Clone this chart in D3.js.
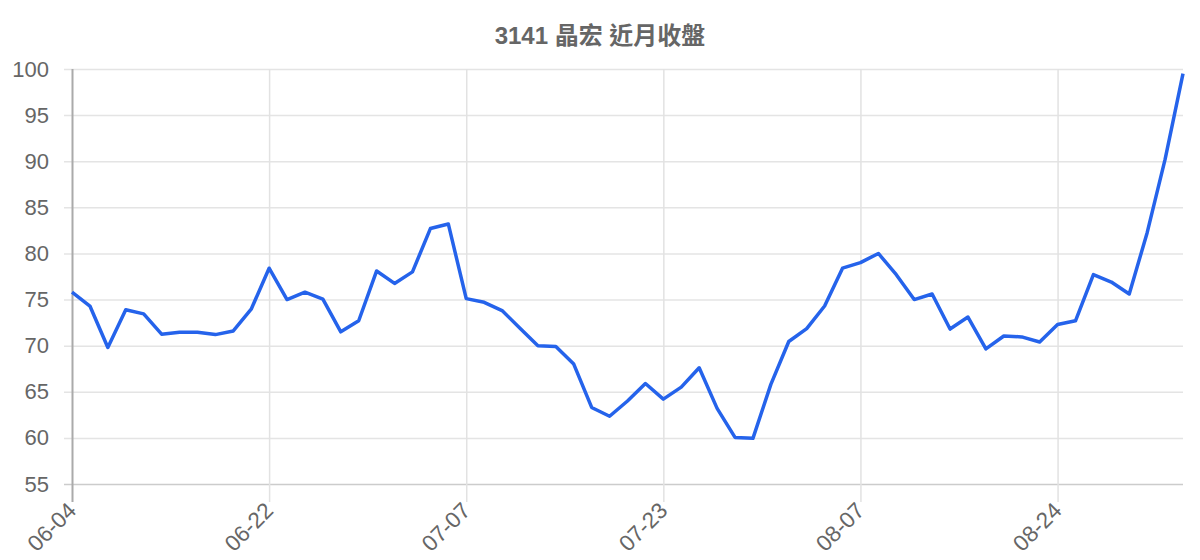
<!DOCTYPE html>
<html>
<head>
<meta charset="utf-8">
<script src="https://cdn.jsdelivr.net/npm/d3@7"></script>
<style>
  html, body { margin: 0; padding: 0; background: #fff; }
  svg { display: block; font-family: "Liberation Sans", Arial, "Noto Sans CJK TC", sans-serif; }
</style>
</head>
<body>
<div id="chart"></div>
<script>
// 3141 晶宏 收盤價 (63 個交易日)
const closes = [
  75.8, 74.3, 69.8, 73.9, 73.45, 71.25, 71.45, 71.45, 71.2, 71.6,
  73.95, 78.4, 75.0, 75.8, 75.05, 71.5, 72.7, 78.1, 76.75, 78.0,
  82.7, 83.2, 75.1, 74.7, 73.8, 71.9, 70.0, 69.9, 68.0, 63.3,
  62.35, 64.0, 65.9, 64.2, 65.5, 67.6, 63.2, 60.05, 59.95, 65.8,
  70.45, 71.85, 74.3, 78.4, 79.0, 80.0, 77.7, 75.0, 75.6, 71.8,
  73.1, 69.65, 71.05, 70.95, 70.4, 72.3, 72.7, 77.7, 76.9, 75.6,
  82.25, 90.2, 99.5
];
const tickIndex = [0, 11, 22, 33, 44, 55];
const tickLabels = ["06-04", "06-22", "07-07", "07-23", "08-07", "08-24"];
const yTicks = [55, 60, 65, 70, 75, 80, 85, 90, 95, 100];
const title = "3141 晶宏 近月收盤";

var width = 1200,
    height = 560,
    plotLeft = 72,
    plotRight = 1183,
    plotTop = 69,
    plotBottom = 484;

var svg = d3.select('#chart').append('svg')
  .attr('width', width)
  .attr('height', height);

var x = d3.scaleLinear()
  .domain([0, closes.length - 1])
  .range([plotLeft, plotRight]);

var y = d3.scaleLinear()
  .domain([55, 100])
  .range([plotBottom, plotTop]);

// horizontal grid + y labels
svg.append('g')
  .attr('transform', 'translate(' + plotLeft + ',0)')
  .call(d3.axisLeft(y).tickValues(yTicks).tickSize(-(plotRight - plotLeft)).tickPadding(0))
  .call(g => g.select('.domain').remove())
  .call(g => g.selectAll('.tick line')
    .attr('x1', -8)
    .attr('stroke', d => d === 55 ? '#cccccc' : '#e4e4e4')
    .attr('stroke-width', 1.5))
  .call(g => g.selectAll('.tick text')
    .attr('x', -23)
    .attr('fill', '#666')
    .attr('font-size', 22)
    .attr('font-family', null));

// vertical grid + x labels
svg.append('g')
  .attr('transform', 'translate(0,' + plotBottom + ')')
  .call(d3.axisBottom(x).tickValues(tickIndex)
    .tickFormat((d, i) => tickLabels[i])
    .tickSize(-(plotBottom - plotTop)))
  .call(g => g.select('.domain').remove())
  .call(g => g.selectAll('.tick line')
    .attr('y1', 18)
    .attr('y2', -(plotBottom - plotTop))
    .attr('stroke', d => d === 0 ? '#aaaaaa' : '#e2e2e2')
    .attr('stroke-width', d => d === 0 ? 2 : 1.5))
  .call(g => g.selectAll('.tick text')
    .attr('fill', '#666')
    .attr('font-size', 22.5)
    .attr('font-family', null)
    .attr('text-anchor', 'end')
    .attr('dy', null)
    .attr('y', 0)
    .attr('transform', 'translate(5,28) rotate(-45)'));

// price line
var line = d3.line()
  .x((d, i) => x(i))
  .y(d => y(d));

svg.append('path')
  .datum(closes)
  .attr('fill', 'none')
  .attr('stroke', '#2563eb')
  .attr('stroke-width', 3.5)
  .attr('stroke-linejoin', 'round')
  .attr('d', line);

// title
svg.append('text')
  .attr('x', 600)
  .attr('y', 44)
  .attr('text-anchor', 'middle')
  .attr('font-size', 24)
  .attr('font-weight', 'bold')
  .attr('fill', '#666')
  .text(title);
</script>
</body>
</html>
